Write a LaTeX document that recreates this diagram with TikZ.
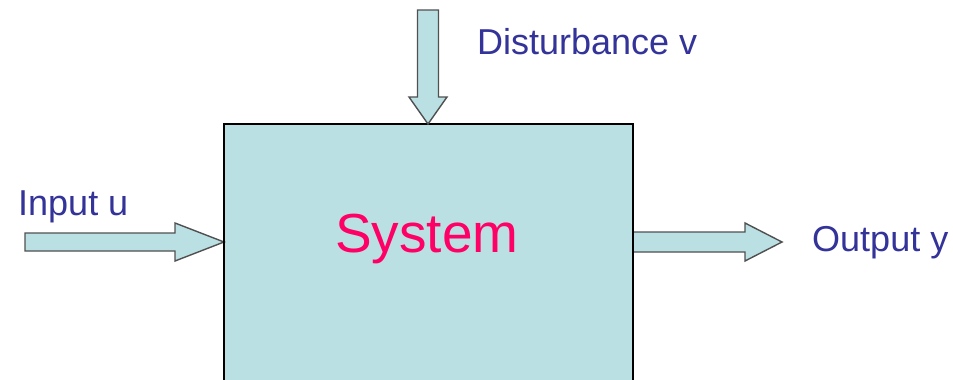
\documentclass[tikz,border=0pt]{standalone}
\usepackage{fontspec}
\setmainfont{Liberation Sans}
\definecolor{boxfill}{HTML}{BAE0E3}
\definecolor{labelblue}{HTML}{333399}
\definecolor{sysred}{HTML}{FF0066}
\definecolor{arrowline}{HTML}{505050}
\begin{document}
\begin{tikzpicture}[x=1pt,y=-1pt,
  blockarrow/.style={fill=boxfill,draw=arrowline,line width=1.4pt,line join=miter},
  lbl/.style={text=labelblue,font=\fontsize{36}{40}\selectfont,inner sep=0pt,anchor=base west},
  sysbox/.style={fill=boxfill,draw=black,line width=1.3pt}]
\clip (0,0) rectangle (953,380);
\fill[white] (0,0) rectangle (953,380);
% system box (extends below the picture)
\draw[sysbox] (224,124) rectangle (633,420);
\coordinate (sysW) at (224,242);
\coordinate (sysN) at (428,124);
\coordinate (sysE) at (633,242);
% input arrow
\draw[blockarrow] ([xshift=-199pt,yshift=-9pt]sysW) -- ([xshift=-49pt,yshift=-9pt]sysW)
  -- ([xshift=-49pt,yshift=-19pt]sysW) -- (sysW) -- ([xshift=-49pt,yshift=19pt]sysW)
  -- ([xshift=-49pt,yshift=9pt]sysW) -- ([xshift=-199pt,yshift=9pt]sysW) -- cycle;
% disturbance arrow
\draw[blockarrow] ([xshift=-10.5pt,yshift=114pt]sysN) -- ([xshift=-10.5pt,yshift=27pt]sysN)
  -- ([xshift=-19pt,yshift=27pt]sysN) -- (sysN) -- ([xshift=19pt,yshift=27pt]sysN)
  -- ([xshift=10.5pt,yshift=27pt]sysN) -- ([xshift=10.5pt,yshift=114pt]sysN) -- cycle;
% output arrow
\draw[blockarrow] ([yshift=-10pt]sysE) -- ([xshift=112pt,yshift=-10pt]sysE)
  -- ([xshift=112pt,yshift=-19pt]sysE) -- ([xshift=149pt]sysE) -- ([xshift=112pt,yshift=19pt]sysE)
  -- ([xshift=112pt,yshift=10pt]sysE) -- ([yshift=10pt]sysE) -- cycle;
\draw[black,line width=1.3pt] (224,124) -- (224,380) (633,124) -- (633,380);
% labels
\node[lbl] (inp) at (18,215) {Input u};
\node[lbl] (dist) at (477,54) {Disturbance v};
\node[lbl] (outp) at (812,251) {Output y};
\node[inner sep=0pt,anchor=base west,text=sysred,font=\fontsize{55}{60}\selectfont] (sys) at (335,252) {System};
\end{tikzpicture}
\end{document}
